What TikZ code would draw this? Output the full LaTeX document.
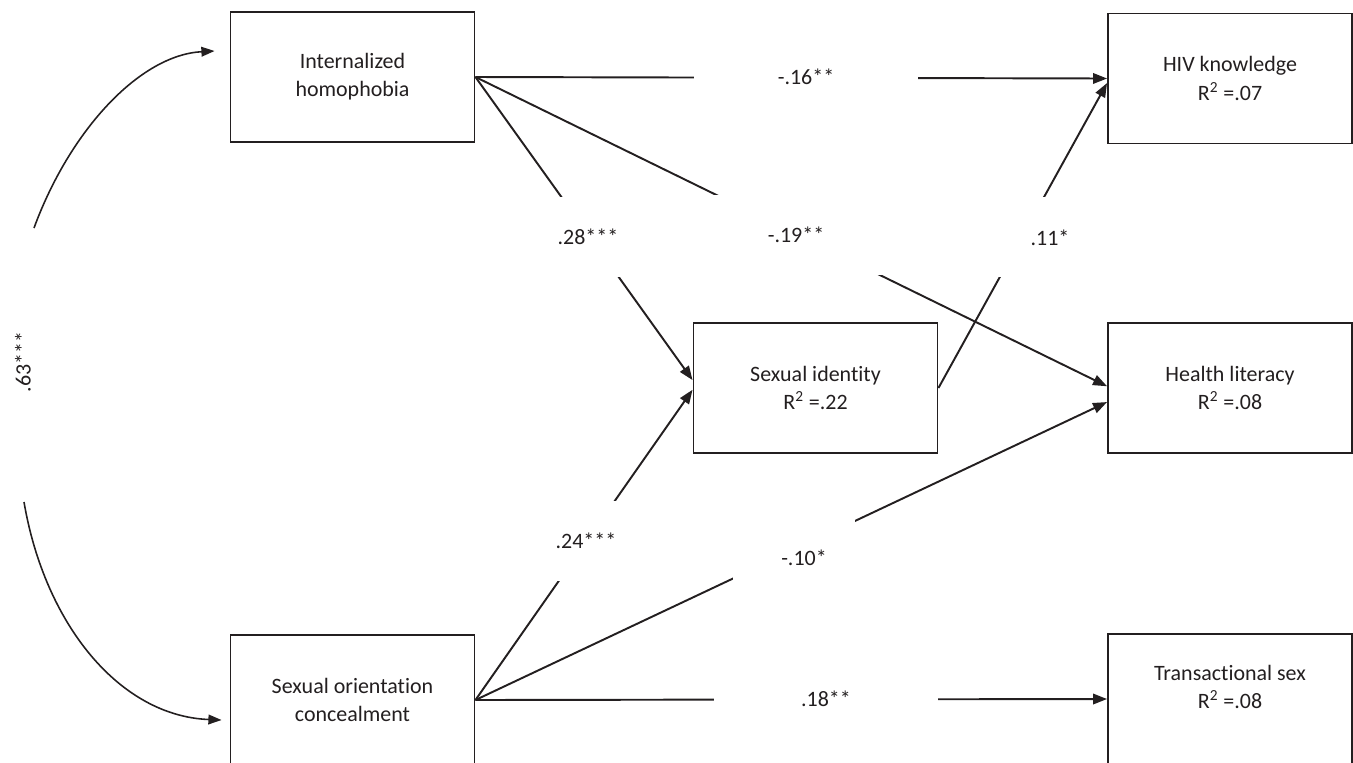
\documentclass[tikz,border=0pt]{standalone}
\usepackage{fontspec}
\setmainfont{Carlito}[Ligatures=NoCommon]
\usepackage{tikz}
\usetikzlibrary{arrows.meta, calc}
\definecolor{ink}{RGB}{35,31,32}

\begin{document}
\begin{tikzpicture}[x=0.02cm, y=-0.02cm,
  every node/.style={font=\fontsize{12.5pt}{16pt}\selectfont, text=ink},
  box/.style={draw=ink, line width=1.1pt, minimum width=4.88cm, minimum height=2.6cm, align=center, inner sep=0pt},
  link/.style={draw=ink, line width=1.1pt, -{Triangle[length=8pt, width=6pt]}},
  covpath/.style={draw=ink, line width=0.9pt, -{Triangle[length=7.5pt, width=5.5pt]}},
  coef/.style={fill=white, inner sep=0pt, minimum width=4.48cm, minimum height=1.6cm},
  gapbox/.style={fill=white, inner sep=0pt, minimum height=1.6cm}]
%% frame
\useasboundingbox (0,0) rectangle (1353,762);
\clip (0,0) rectangle (1353,762);
%% boxes
\node [box] (ih) at (352.5,77) {Internalized\\homophobia};
\node [box] (soc) at (352.5,700) {Sexual orientation\\concealment};
\node [box] (si) at (815.5,388) {Sexual identity\\R\textsuperscript{2} =.22};
\node [box] (hiv) at (1230,78.5) {HIV knowledge\\R\textsuperscript{2} =.07};
\node [box] (hl) at (1230,388) {Health literacy\\R\textsuperscript{2} =.08};
\node [box, label={[yshift=7pt, align=center]center:Transactional sex\\R\textsuperscript{2} =.08}] (ts) at (1230,699) {};
%% paths
\draw [link] (ih.east) -- (hiv.west);
\draw [link] (ih.east) -- ([yshift=4.5pt]si.west);
\draw [link] (ih.east) -- ([yshift=1pt]hl.west);
\draw [link] (si.east) -- ([yshift=-2.6pt]hiv.west);
\draw [link] (soc.east) -- ([yshift=-1pt]si.west);
\draw [link] (soc.east) -- ([yshift=-8pt]hl.west);
\draw [link] (soc.east) -- (ts.west);
%% covariance
\coordinate (k1) at (34,228);
\coordinate (k2) at (24,502);
\draw [covpath] (k1) .. controls (70,130) and (140,55) .. ($(ih.west)+(-15,-26)$);
\draw [covpath] (k2) .. controls (45,625) and (120,716) .. ($(soc.west)+(-8,20)$);
\node [rotate=90] (c63) at (23,362) {.63***};
%% coefficients
\node [coef] (c16) at (806,77) {-.16**};
\node [coef] (c28) at (588,237) {.28***};
\node [coef] (c19) at (796,235) {-.19**};
\node [gapbox, minimum width=4.48cm] (g11) at (1020,237) {};
\node (c11) at (1050,238) {.11*};
\node [coef] (c24) at (586,541) {.24***};
\node [gapbox, minimum width=2.44cm] (g10) at (794,548) {};
\node (c10) at (804,558) {-.10*};
\node [coef] (c18) at (826,699) {.18**};
\end{tikzpicture}
\end{document}
